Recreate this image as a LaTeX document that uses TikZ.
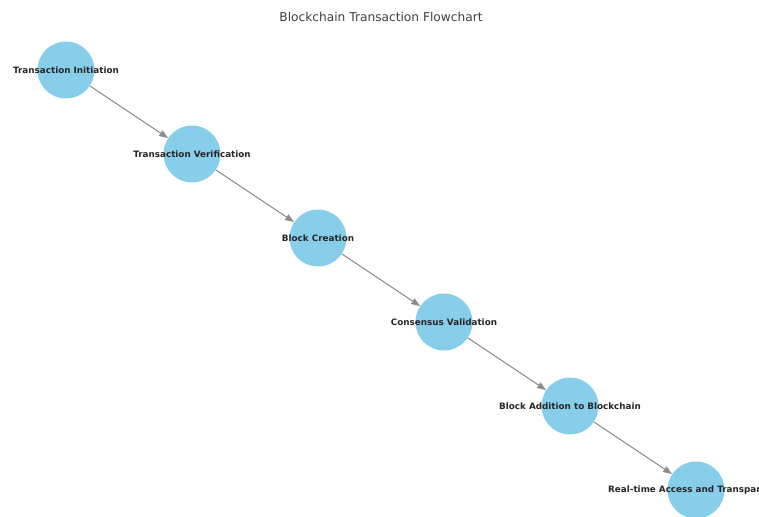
\documentclass[tikz,border=0pt]{standalone}
\usepackage{fontspec}
\setmainfont{DejaVu Sans}
\usetikzlibrary{arrows.meta}
\definecolor{skyblue}{HTML}{87CEEB}

\begin{document}
\begin{tikzpicture}[x=1pt,y=-1pt]
            \tikzstyle{stage}=[circle,fill=skyblue,minimum size=57pt,inner sep=0pt]
            \tikzstyle{stagetext}=[font=\bfseries\fontsize{8.8}{10}\selectfont,text=black!85,inner sep=0pt]
            \tikzstyle{flow}=[draw=black!45,line width=1pt,-{Triangle[length=9pt,width=6.5pt]}]
            \useasboundingbox (0,0) rectangle (759,516);
            \clip (0,0) rectangle (759,516);
            \node[font=\fontsize{12.2}{14}\selectfont,text=black!75] (title) at (381,17) {Blockchain Transaction Flowchart};
            \node[stage,label={[stagetext]center:Transaction Initiation}] (init) at (66,70) {};
            \node[stage,label={[stagetext]center:Transaction Verification}] (verify) at (192,154) {};
            \node[stage,label={[stagetext]center:Block Creation}] (block) at (318,238) {};
            \node[stage,label={[stagetext]center:Consensus Validation}] (consensus) at (444,322) {};
            \node[stage,label={[stagetext]center:Block Addition to Blockchain}] (addition) at (570,406) {};
            \node[stage,label={[stagetext]center:Real-time Access and Transparency}] (access) at (696,490) {};
            \foreach \a/\b in {init/verify,verify/block,block/consensus,consensus/addition,addition/access}
                \draw[flow] (\a) -- (\b);
\end{tikzpicture}
\end{document}
